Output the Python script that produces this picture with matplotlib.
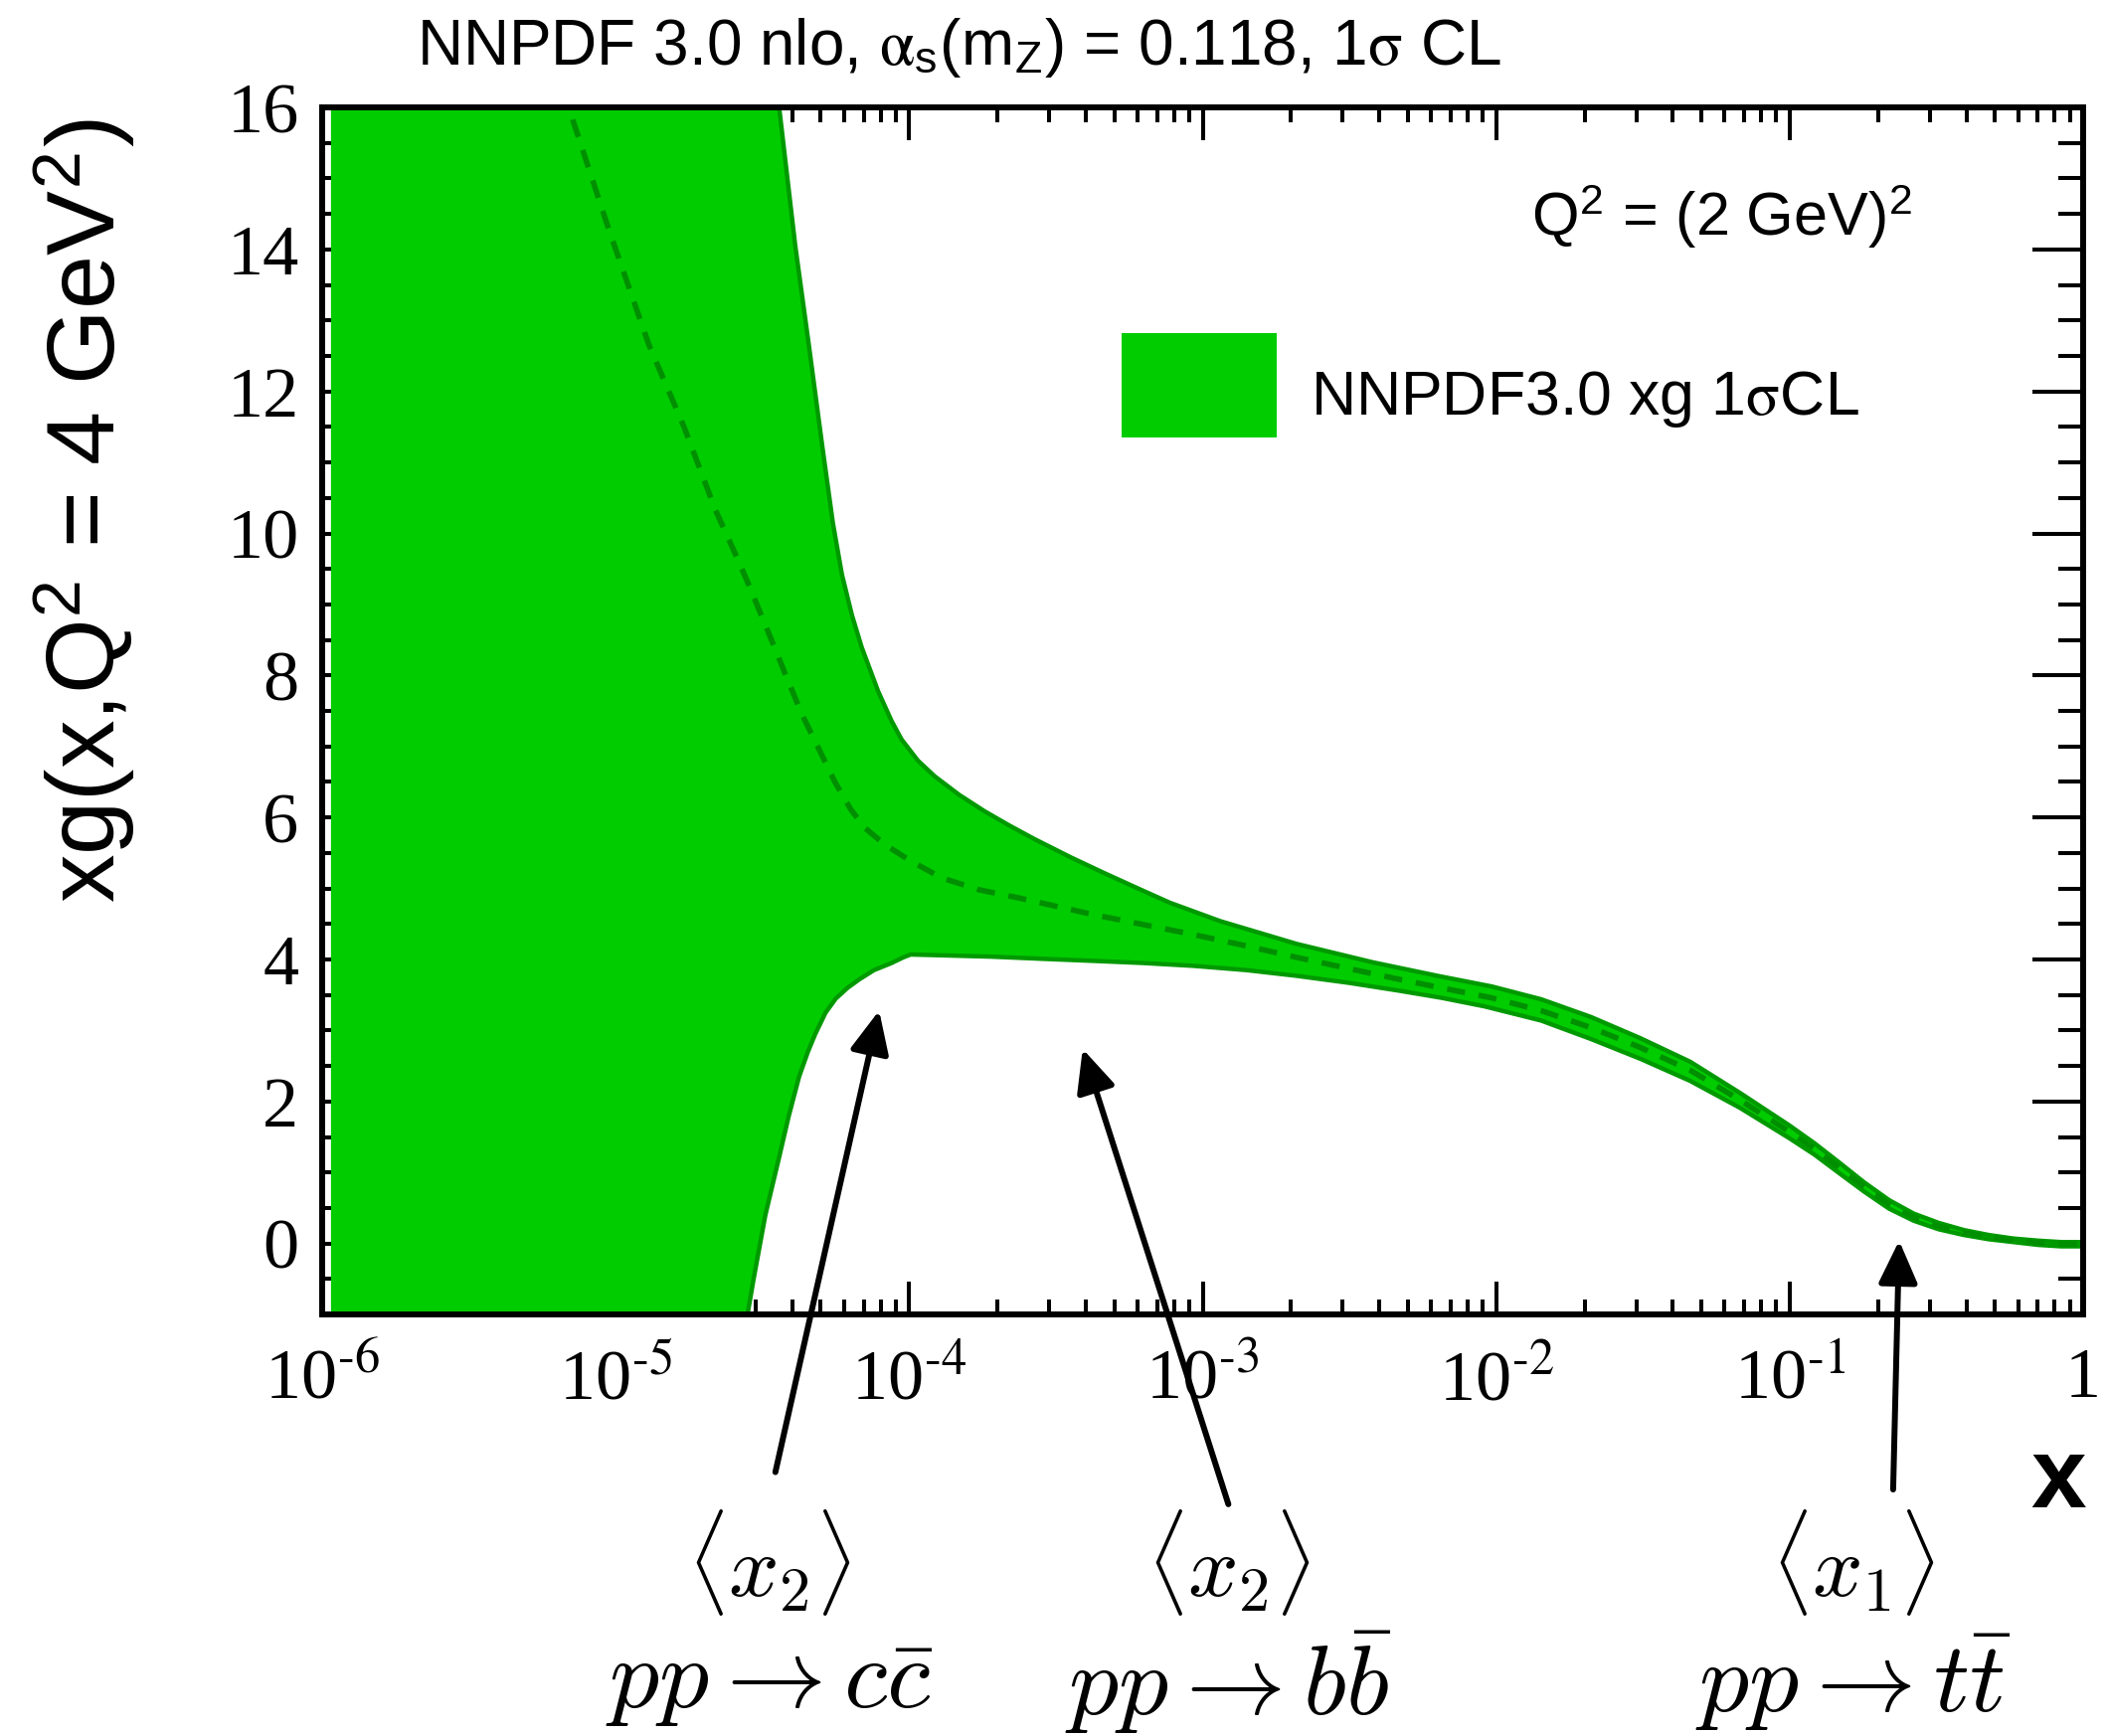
import numpy as np
import matplotlib

matplotlib.use("Agg")
import matplotlib.pyplot as plt
from matplotlib.patches import Rectangle
from matplotlib.ticker import LogLocator, MultipleLocator, NullFormatter

plt.rcParams["font.family"] = ["Liberation Sans", "DejaVu Sans"]
plt.rcParams["mathtext.fontset"] = "stix"

# band edges and central value (x given as log10 x)
up_logx = [-5.97, -4.6, -4.5, -4.443, -4.388, -4.342, -4.297, -4.26, -4.229,
           -4.195, -4.162, -4.106, -4.06, -4.026, -3.97, -3.913, -3.83, -3.744,
           -3.66, -3.575, -3.45, -3.337, -3.22, -3.112, -2.94, -2.68, -2.42,
           -2.2, -2.015, -1.847, -1.677, -1.508, -1.339, -1.169, -1.0, -0.915,
           -0.831, -0.746, -0.661, -0.577, -0.492, -0.407, -0.322, -0.238,
           -0.153, -0.075, 0.0]
xg_up = [40, 25, 19, 16.0, 14.05, 12.66, 11.26, 10.15, 9.42, 8.85, 8.40, 7.78,
         7.36, 7.10, 6.80, 6.58, 6.32, 6.09, 5.89, 5.70, 5.44, 5.22, 5.00, 4.80,
         4.54, 4.22, 3.96, 3.77, 3.62, 3.44, 3.19, 2.89, 2.56, 2.12, 1.66, 1.41,
         1.14, 0.86, 0.61, 0.42, 0.29, 0.19, 0.12, 0.07, 0.04, 0.02, 0.02]

mid_logx = [-5.6, -5.16, -5.024, -4.887, -4.766, -4.66, -4.591, -4.554, -4.479,
            -4.42, -4.365, -4.30, -4.253, -4.2, -4.15, -4.083, -4.0, -3.89,
            -3.76, -3.63, -3.50, -3.37, -3.2, -3.03, -2.85, -2.68, -2.5, -2.33,
            -2.186, -2.016, -1.847, -1.677, -1.508, -1.339, -1.169, -1.0,
            -0.915, -0.831, -0.746, -0.661, -0.577, -0.492, -0.407, -0.322,
            -0.238, -0.153, -0.075, 0.0]
xg_central = [21, 16.0, 14.29, 12.66, 11.49, 10.33, 9.7, 9.35, 8.6, 8.0, 7.45,
              6.9, 6.5, 6.12, 5.85, 5.62, 5.4, 5.15, 4.98, 4.87, 4.75, 4.63,
              4.49, 4.35, 4.19, 4.03, 3.87, 3.72, 3.60, 3.46, 3.28, 3.04, 2.76,
              2.44, 2.02, 1.57, 1.33, 1.07, 0.80, 0.55, 0.37, 0.245, 0.155,
              0.09, 0.045, 0.012, -0.005, -0.01]

low_logx = [-5.97, -4.6, -4.58, -4.53, -4.49, -4.445, -4.41, -4.375, -4.345,
            -4.32, -4.285, -4.25, -4.21, -4.17, -4.12, -4.06, -4.02, -3.995,
            -3.9, -3.72, -3.55, -3.37, -3.2, -3.03, -2.85, -2.68, -2.5, -2.33,
            -2.186, -2.04, -1.847, -1.677, -1.508, -1.339, -1.169, -1.0, -0.915,
            -0.831, -0.746, -0.661, -0.577, -0.492, -0.407, -0.322, -0.238,
            -0.153, -0.075, 0.0]
xg_low = [-10, -2.2, -1.7, -0.5, 0.4, 1.18, 1.8, 2.35, 2.7, 2.95, 3.25, 3.45,
          3.6, 3.72, 3.85, 3.95, 4.03, 4.07, 4.06, 4.04, 4.01, 3.98, 3.95, 3.91,
          3.85, 3.77, 3.67, 3.56, 3.46, 3.34, 3.14, 2.88, 2.60, 2.29, 1.91,
          1.48, 1.25, 0.99, 0.73, 0.49, 0.32, 0.20, 0.12, 0.06, 0.02, -0.02,
          -0.04, -0.04]

decade_ticks = [1e-6, 1e-5, 1e-4, 1e-3, 1e-2, 1e-1, 1.0]
decade_labels = [r"10$^{\text{-}6}$", r"10$^{\text{-}5}$", r"10$^{\text{-}4}$",
                 r"10$^{\text{-}3}$", r"10$^{\text{-}2}$", r"10$^{\text{-}1}$", "1"]

# <x> of each process and where the arrows point on the band
arrow_x = [7.9e-5, 3.9e-4, 0.236]
arrow_y = [3.28, 2.74, 0.04]
avg_labels = [r"$\langle x_2\rangle$", r"$\langle x_2\rangle$", r"$\langle x_1\rangle$"]
proc_labels = [r"$pp\rightarrow c\bar{c}$", r"$pp\rightarrow b\bar{b}$",
               r"$pp\rightarrow t\bar{t}$"]

fill_col = "#00cc00"
edge_col = "#009900"

x_up = 10.0 ** np.array(up_logx)
x_mid = 10.0 ** np.array(mid_logx)
x_low = 10.0 ** np.array(low_logx)

fig = plt.figure(figsize=(21.19, 17.46), dpi=100)
ax = fig.add_axes([0.1529, 0.2428, 0.8358, 0.6953])

ax.fill(np.concatenate([x_up, x_low[::-1]]), np.concatenate([xg_up, xg_low[::-1]]),
        color=fill_col, lw=0, zorder=1)
ax.plot(x_up, xg_up, color=edge_col, lw=3.2, zorder=2)
ax.plot(x_low, xg_low, color=edge_col, lw=3.2, zorder=2)
ax.plot(x_mid, xg_central, color="#008f00", lw=4.0, ls=(0, (3.3, 2.5)), zorder=3)

ax.set_xscale("log")
ax.set_xlim(1e-6, 1)
ax.set_ylim(-1, 16)
ax.set_axisbelow(True)
ax.set_xticks(decade_ticks, decade_labels)
ax.xaxis.set_minor_locator(LogLocator(base=10, subs=np.arange(2, 10), numticks=20))
ax.xaxis.set_minor_formatter(NullFormatter())
ax.yaxis.set_major_locator(MultipleLocator(2))
ax.yaxis.set_minor_locator(MultipleLocator(0.5))
ax.tick_params(which="both", direction="in", top=True, right=True, width=2.9,
               labelfontfamily="Liberation Serif")
ax.tick_params(axis="x", which="major", length=24, pad=24, labelsize=52)
ax.tick_params(axis="x", which="minor", length=11)
ax.tick_params(axis="y", which="major", length=37, pad=17, labelsize=52)
ax.tick_params(axis="y", which="minor", length=18)
for s in ax.spines.values():
    s.set_linewidth(4.3)

# legend box drawn by hand, like the original
ax.add_patch(Rectangle((0.454, 0.7265), 0.088, 0.0865, transform=ax.transAxes,
                       facecolor=fill_col, edgecolor="none", zorder=4))
ax.text(0.561, 0.7587, r"NNPDF3.0 xg 1$\mathrm{\sigma}$CL", transform=ax.transAxes,
        fontsize=45, ha="left", va="center")
ax.text(0.6866, 0.9094, r"Q$^\mathregular{2}$ = (2 GeV)$^\mathregular{2}$",
        transform=ax.transAxes, fontsize=44, ha="left", va="center")

fig.text(0.455, 0.963,
         r"NNPDF 3.0 nlo, $\mathrm{\alpha}_\mathregular{s}$(m$_\mathregular{Z}$) = 0.118, 1$\mathrm{\sigma}$ CL",
         fontsize=46, ha="center", va="baseline")
fig.text(0.0406, 0.706, r"xg(x,Q$^\mathregular{2}$ = 4 GeV$^\mathregular{2}$)",
         fontsize=70, rotation=90, ha="center", va="center")
fig.text(0.9769, 0.1466, "x", fontsize=72, fontweight="bold", ha="center", va="center")

tails = [(0.368, 0.152), (0.583, 0.1335), (0.8985, 0.142)]
for xa, ya, (tx, ty) in zip(arrow_x, arrow_y, tails):
    ax.annotate("", xy=(xa, ya), xycoords="data", xytext=(tx, ty),
                textcoords="figure fraction", annotation_clip=False,
                arrowprops=dict(arrowstyle="-|>,head_length=1.0,head_width=0.46",
                                mutation_scale=26, lw=4.3, color="black",
                                shrinkA=0, shrinkB=0))

label_x = [0.365, 0.583, 0.8795]
for lx, top, bot in zip(label_x, avg_labels, proc_labels):
    fig.text(lx, 0.0997, top, fontsize=64, ha="center", va="center", math_fontfamily="cm")
    fig.text(lx, 0.031, bot, fontsize=72, ha="center", va="center", math_fontfamily="cm")

fig.savefig("out.png", dpi=100)
